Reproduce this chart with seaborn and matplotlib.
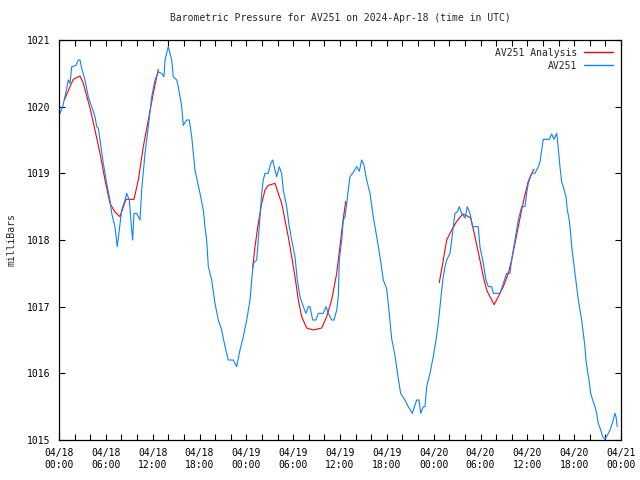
import numpy as np
import pandas as pd
import matplotlib
matplotlib.use("Agg")
import matplotlib.pyplot as plt
import seaborn as sns
from matplotlib.lines import Line2D
from matplotlib.ticker import MultipleLocator

# ---- data (hours since 2024-04-18 00:00 UTC, pressure in mbar) ----
station_hours = [
    0.13, 0.47, 0.90, 1.19, 1.41, 1.63, 2.18, 2.47, 2.69, 2.91, 3.33, 3.75, 4.19, 4.61, 4.83,
    5.03, 5.25, 5.68, 6.11, 6.53, 6.75, 7.17, 7.47, 7.72, 8.03, 8.46, 8.67, 9.01, 9.31, 9.44,
    9.61, 9.95, 10.38, 10.59, 11.02, 11.44, 11.88, 12.30, 12.72, 13.16, 13.45, 13.58, 14.00,
    14.44, 14.64, 15.08, 15.28, 15.72, 15.92, 16.36, 16.69, 17.00, 17.42, 18.06, 18.49, 18.70,
    18.92, 19.13, 19.56, 19.98, 20.41, 20.84, 21.27, 21.69, 22.33, 22.76, 23.19, 23.61, 24.05,
    24.47, 24.69, 24.89, 25.33, 25.53, 25.75, 25.97, 26.17, 26.39, 26.81, 27.12, 27.38, 27.67,
    27.89, 28.22, 28.53, 28.73, 29.17, 29.50, 29.81, 30.23, 30.53, 30.87, 31.30, 31.64, 31.94,
    32.15, 32.50, 32.92, 33.22, 33.86, 34.20, 34.50, 34.93, 35.23, 35.58, 35.78, 35.91, 36.22,
    36.42, 36.64, 36.86, 37.06, 37.28, 37.63, 38.14, 38.47, 38.78, 39.07, 39.42, 39.84, 40.26,
    40.70, 41.12, 41.55, 41.98, 42.31, 42.62, 43.04, 43.47, 43.77, 44.32, 44.75, 45.26, 45.82,
    46.12, 46.34, 46.67, 46.89, 47.11, 47.31, 47.53, 47.95, 48.30, 48.59, 48.81, 49.03, 49.23,
    49.45, 49.67, 50.09, 50.31, 50.51, 50.73, 51.02, 51.28, 51.59, 52.01, 52.31, 52.65, 53.00,
    53.71, 53.93, 54.36, 54.70, 55.00, 55.43, 55.64, 56.50, 56.92, 57.35, 57.78, 57.99, 58.20,
    58.42, 58.63, 58.84, 59.27, 59.70, 59.91, 60.12, 60.56, 60.98, 61.40, 61.62, 61.84, 62.04,
    62.81, 63.12, 63.41, 63.76, 63.96, 64.18, 64.40, 64.60, 64.95, 65.12, 65.37, 65.55, 65.68,
    65.89, 66.10, 66.32, 66.53, 66.74, 66.96, 67.17, 67.38, 67.51, 67.68, 67.90, 68.11, 68.37,
    68.67, 68.88, 69.09, 69.40, 69.65, 69.95, 70.24, 70.59, 70.93, 71.23, 71.36, 71.52,
]
station_mbar = [
    1019.90, 1020.00, 1020.22, 1020.40, 1020.35, 1020.60, 1020.62, 1020.70, 1020.70, 1020.57,
    1020.40, 1020.15, 1020.00, 1019.85, 1019.70, 1019.68, 1019.50, 1019.15, 1018.85, 1018.60,
    1018.40, 1018.20, 1017.90, 1018.15, 1018.45, 1018.60, 1018.70, 1018.60, 1018.15, 1018.00,
    1018.40, 1018.40, 1018.30, 1018.75, 1019.30, 1019.70, 1020.15, 1020.40, 1020.52, 1020.50,
    1020.45, 1020.70, 1020.90, 1020.70, 1020.45, 1020.40, 1020.30, 1020.00, 1019.72, 1019.80,
    1019.80, 1019.55, 1019.05, 1018.70, 1018.45, 1018.20, 1018.00, 1017.60, 1017.40, 1017.05,
    1016.80, 1016.65, 1016.40, 1016.20, 1016.20, 1016.10, 1016.35, 1016.55, 1016.80, 1017.10,
    1017.40, 1017.65, 1017.70, 1018.00, 1018.35, 1018.70, 1018.90, 1019.00, 1019.00, 1019.15,
    1019.20, 1019.05, 1018.95, 1019.10, 1019.00, 1018.75, 1018.50, 1018.20, 1018.00, 1017.75,
    1017.40, 1017.15, 1017.00, 1016.90, 1017.00, 1017.00, 1016.80, 1016.80, 1016.90, 1016.90,
    1017.00, 1016.90, 1016.80, 1016.80, 1016.95, 1017.15, 1017.70, 1018.00, 1018.30, 1018.35,
    1018.55, 1018.75, 1018.95, 1019.00, 1019.10, 1019.03, 1019.20, 1019.12, 1018.90, 1018.70,
    1018.35, 1018.05, 1017.75, 1017.40, 1017.27, 1016.90, 1016.52, 1016.27, 1015.92, 1015.70,
    1015.60, 1015.50, 1015.40, 1015.60, 1015.60, 1015.40, 1015.50, 1015.50, 1015.80, 1015.90,
    1016.00, 1016.25, 1016.50, 1016.75, 1017.00, 1017.25, 1017.45, 1017.60, 1017.70, 1017.80,
    1018.00, 1018.20, 1018.40, 1018.42, 1018.50, 1018.40, 1018.33, 1018.50, 1018.40, 1018.20,
    1018.20, 1017.90, 1017.65, 1017.40, 1017.30, 1017.30, 1017.20, 1017.20, 1017.35, 1017.50,
    1017.50, 1017.70, 1017.85, 1018.00, 1018.15, 1018.30, 1018.50, 1018.50, 1018.70, 1018.85,
    1019.00, 1019.00, 1019.10, 1019.17, 1019.35, 1019.51, 1019.51, 1019.59, 1019.51, 1019.60,
    1019.38, 1019.10, 1018.87, 1018.80, 1018.65, 1018.45, 1018.30, 1018.10, 1017.90, 1017.70,
    1017.50, 1017.30, 1017.10, 1016.95, 1016.80, 1016.60, 1016.40, 1016.20, 1016.05, 1015.90,
    1015.70, 1015.60, 1015.50, 1015.40, 1015.25, 1015.15, 1015.05, 1015.01, 1015.07, 1015.15,
    1015.27, 1015.40, 1015.35, 1015.20,
]

analysis1_hours = [0.68, 1.41, 1.83, 2.69, 3.11, 3.97, 4.61, 5.25, 5.89, 6.53, 7.17, 7.81,
                   8.58, 9.61, 10.16, 10.80, 11.44, 12.08, 12.72]
analysis1_mbar = [1020.10, 1020.30, 1020.41, 1020.46, 1020.35, 1019.98, 1019.65, 1019.30,
                  1018.90, 1018.55, 1018.42, 1018.35, 1018.61, 1018.61, 1018.90, 1019.40,
                  1019.80, 1020.20, 1020.56]
analysis2_hours = [24.81, 25.11, 25.53, 25.97, 26.39, 26.81, 27.67, 28.09, 28.53, 28.95, 29.37,
                   29.81, 30.23, 30.66, 31.09, 31.73, 32.58, 33.65, 34.29, 34.93, 35.58, 35.99,
                   36.34, 36.73]
analysis2_mbar = [1017.58, 1017.90, 1018.25, 1018.55, 1018.75, 1018.82, 1018.85, 1018.70,
                  1018.55, 1018.30, 1018.05, 1017.75, 1017.45, 1017.10, 1016.85, 1016.68,
                  1016.65, 1016.68, 1016.85, 1017.10, 1017.50, 1017.90, 1018.25, 1018.58]
analysis3_hours = [48.72, 49.23, 49.67, 50.31, 50.95, 51.72, 52.31, 52.74, 53.29, 53.84, 54.36,
                   54.79, 55.30, 55.76, 56.27, 56.92, 57.56, 57.99, 58.42, 58.84, 59.27, 59.70,
                   60.12, 60.56, 60.85]
analysis3_mbar = [1017.36, 1017.70, 1018.00, 1018.15, 1018.28, 1018.39, 1018.36, 1018.33,
                  1018.05, 1017.75, 1017.45, 1017.25, 1017.13, 1017.03, 1017.15, 1017.30,
                  1017.50, 1017.70, 1017.95, 1018.20, 1018.45, 1018.68, 1018.88, 1019.00,
                  1019.06]

tick_hours = [0, 6, 12, 18, 24, 30, 36, 42, 48, 54, 60, 66, 72]
tick_labels = ["04/18\n00:00", "04/18\n06:00", "04/18\n12:00", "04/18\n18:00",
               "04/19\n00:00", "04/19\n06:00", "04/19\n12:00", "04/19\n18:00",
               "04/20\n00:00", "04/20\n06:00", "04/20\n12:00", "04/20\n18:00",
               "04/21\n00:00"]
y_ticks = [1015, 1016, 1017, 1018, 1019, 1020, 1021]

title = "Barometric Pressure for AV251 on 2024-Apr-18 (time in UTC)"
red = "#ff0000"
blue = "#0a84ff"

# ---- build frames ----
station_df = pd.DataFrame({"hours": station_hours, "mbar": station_mbar})
analysis_df = pd.concat([
    pd.DataFrame({"hours": analysis1_hours, "mbar": analysis1_mbar, "seg": 1}),
    pd.DataFrame({"hours": analysis2_hours, "mbar": analysis2_mbar, "seg": 2}),
    pd.DataFrame({"hours": analysis3_hours, "mbar": analysis3_mbar, "seg": 3}),
], ignore_index=True)

sns.set_style("ticks")
plt.rcParams["font.family"] = ["DejaVu Sans Mono"]
plt.rcParams["font.size"] = 7

fig = plt.figure(figsize=(6.4, 4.8), dpi=100)
ax = fig.add_axes([59 / 640, 40 / 480, 562 / 640, 400 / 480])

sns.lineplot(data=analysis_df, x="hours", y="mbar", units="seg", estimator=None,
             color=red, linewidth=0.8, ax=ax, legend=False, sort=False)
sns.lineplot(data=station_df, x="hours", y="mbar", color=blue, linewidth=0.8,
             ax=ax, legend=False, sort=False)

ax.set_xlim(0, 72)
ax.set_ylim(1015, 1021)
ax.set_xticks(tick_hours)
ax.set_xticklabels(tick_labels)
ax.xaxis.set_minor_locator(MultipleLocator(2))
ax.set_yticks(y_ticks)
ax.set_yticklabels([str(v) for v in y_ticks])
ax.tick_params(axis="both", which="both", direction="in", top=True, right=True,
               length=4, width=0.8, color="black", labelsize=7, labelcolor="black")
ax.tick_params(axis="x", which="major", pad=6)
ax.tick_params(axis="y", which="major", pad=6)
for s in ax.spines.values():
    s.set_visible(True)
    s.set_linewidth(0.9)
    s.set_color("black")
ax.set_xlabel("")
ax.set_ylabel("")
ax.grid(False)

ax.set_title(title, fontsize=7, pad=14)
fig.text(12 / 640, 0.5, "milliBars", rotation=90, ha="center", va="center", fontsize=7)

handles = [Line2D([], [], color=red, linewidth=1.0),
           Line2D([], [], color=blue, linewidth=1.0)]
ax.legend(handles, ["AV251 Analysis", "AV251"], loc="upper right", frameon=False,
          markerfirst=False, handlelength=3.0, handletextpad=0.7, labelspacing=0.3,
          borderpad=0.2, borderaxespad=0.6, fontsize=7)

fig.savefig("out.png", dpi=100)
